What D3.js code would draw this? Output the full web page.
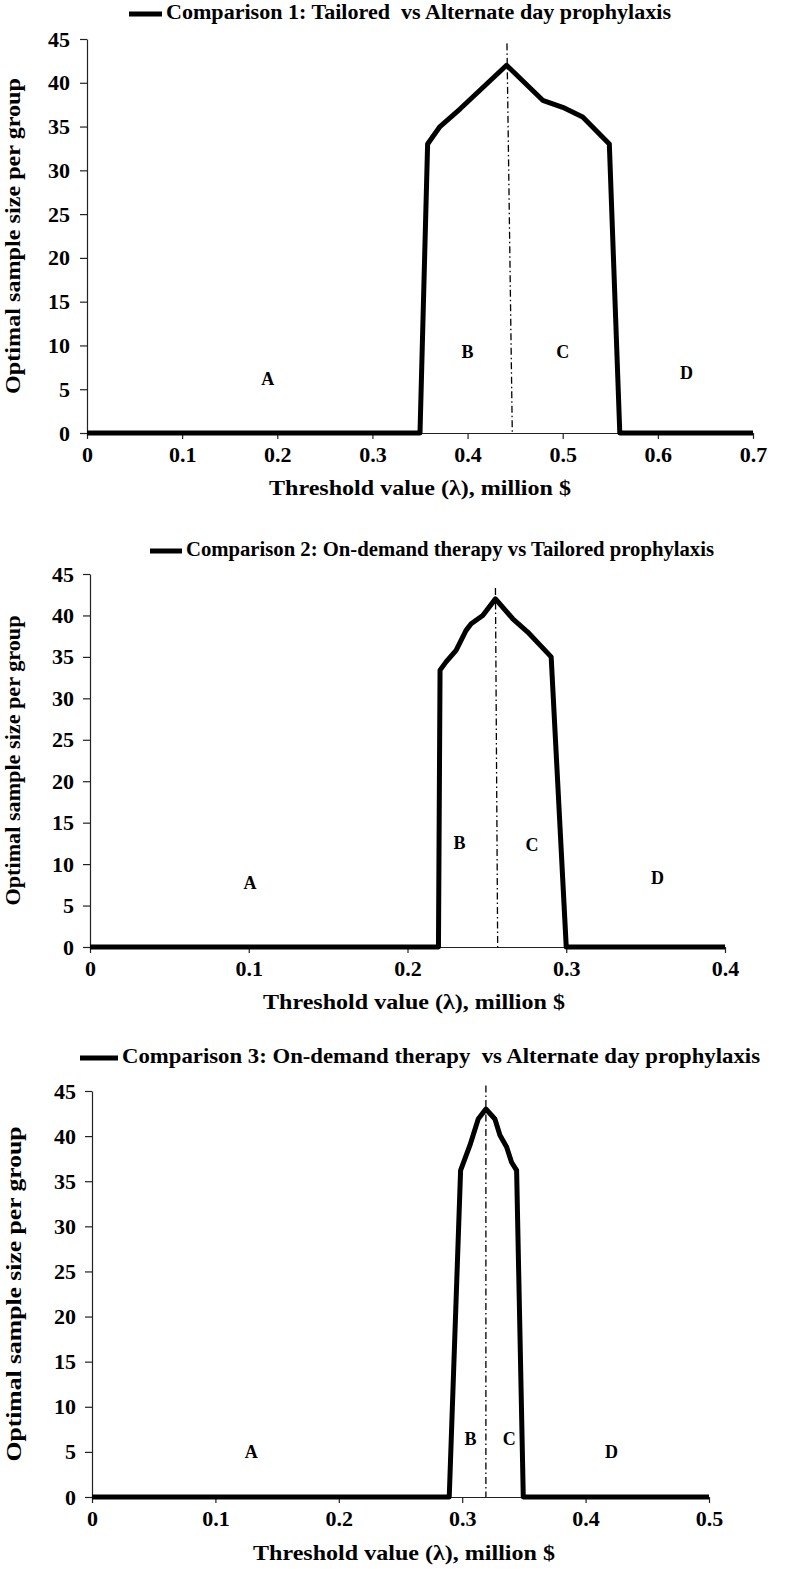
<!DOCTYPE html>
<html>
<head>
<meta charset="utf-8">
<script src="https://cdn.jsdelivr.net/npm/d3@7"></script>
<style>
  html, body { margin: 0; padding: 0; background: #fff; }
  svg text { font-family: "Liberation Serif", "Times New Roman", serif; font-weight: bold; fill: #000; white-space: pre; }
</style>
</head>
<body>
<svg id="chart" width="791" height="1569"></svg>
<script>
// ---------- data ----------
const yTicks = [0, 5, 10, 15, 20, 25, 30, 35, 40, 45];
const xTicks1 = [0, 0.1, 0.2, 0.3, 0.4, 0.5, 0.6, 0.7];
const xTicks2 = [0, 0.1, 0.2, 0.3, 0.4];
const xTicks3 = [0, 0.1, 0.2, 0.3, 0.4, 0.5];

const legend1 = "Comparison 1: Tailored  vs Alternate day prophylaxis";
const legend2 = "Comparison 2: On-demand therapy vs Tailored prophylaxis";
const legend3 = "Comparison 3: On-demand therapy  vs Alternate day prophylaxis";
const xTitle = "Threshold value (λ), million $";
const yTitle = "Optimal sample size per group";

// Comparison 1
const lambda1 = [0, 0.1, 0.2, 0.3, 0.35, 0.358, 0.371, 0.392, 0.441, 0.479, 0.5, 0.521, 0.549, 0.56, 0.6, 0.7];
const size1   = [0, 0,   0,   0,   0,    33,    35,    37,    42,    38,    37.2, 36.1, 33,    0,    0,   0];
const divider1X = [0.4414, 0.447];
const divider1Y = [44.5, 0];
const regions = ["A", "B", "C", "D"];
const regionX1 = [0.19, 0.40, 0.50, 0.63];
const regionY1 = [6, 9, 9, 6.6];

// Comparison 2
const lambda2 = [0, 0.1, 0.2, 0.2195, 0.2205, 0.2243, 0.2306, 0.2369, 0.2401, 0.2474, 0.2554, 0.2663, 0.2757, 0.2905, 0.30, 0.35, 0.4];
const size2   = [0, 0,   0,   0,      33.4,   34.4,   35.8,   38.2,   39.0,   40.0,   42,     39.6,   38,     35,     0,    0,    0];
const divider2X = [0.2554, 0.2568];
const divider2Y = [43.3, 0];
const regionX2 = [0.1008, 0.2327, 0.2785, 0.3575];
const regionY2 = [7.5, 12.3, 12.1, 8.1];

// Comparison 3
const lambda3 = [0, 0.1, 0.2, 0.2895, 0.2987, 0.3063, 0.313, 0.3192, 0.3265, 0.3306, 0.336, 0.340, 0.3441, 0.3495, 0.4, 0.5];
const size3   = [0, 0,   0,   0,      36.2,   39,     41.9,  43,     41.9,   40.1,   38.8,  37.1,  36.2,   0,      0,   0];
const divider3X = [0.3192, 0.3192];
const divider3Y = [45.6, 0];
const regionX3 = [0.129, 0.3068, 0.3382, 0.421];
const regionY3 = [4.8, 6.2, 6.2, 4.8];

// ---------- layout ----------
const panels = [
  { legend: legend1, lx: lambda1, ly: size1, dx: divider1X, dy: divider1Y, rx: regionX1, ry: regionY1, xTicks: xTicks1,
    left: 87, right: 753, top: 39, bottom: 433, legendLine: [129, 162], legendText: [166, 671], legendY: 14,
    xTitleX: 420, xTitleY: 490, yTitleX: 15, yTitleLen: 316, ytPad: 10 },
  { legend: legend2, lx: lambda2, ly: size2, dx: divider2X, dy: divider2Y, rx: regionX2, ry: regionY2, xTicks: xTicks2,
    left: 90, right: 725, top: 574, bottom: 947, legendLine: [150, 182], legendText: [186, 714], legendY: 551,
    xTitleX: 414, xTitleY: 1004, yTitleX: 15, yTitleLen: 290, ytPad: 9 },
  { legend: legend3, lx: lambda3, ly: size3, dx: divider3X, dy: divider3Y, rx: regionX3, ry: regionY3, xTicks: xTicks3,
    left: 92, right: 709, top: 1091, bottom: 1497, legendLine: [80, 118], legendText: [122, 760], legendY: 1058,
    xTitleX: 404, xTitleY: 1555, yTitleX: 16, yTitleLen: 335, ytPad: 9 }
];

const svg = d3.select("#chart");
const fmtX = d => d === 0 ? "0" : d3.format(".1f")(d);

panels.forEach(p => {
  const xMax = p.xTicks[p.xTicks.length - 1];
  const x = d3.scaleLinear().domain([0, xMax]).range([p.left, p.right]);
  const y = d3.scaleLinear().domain([0, 45]).range([p.bottom, p.top]);
  const g = svg.append("g");

  // x axis
  const xa = g.append("g").attr("transform", `translate(0,${p.bottom})`)
    .call(d3.axisBottom(x).tickValues(p.xTicks).tickFormat(fmtX).tickSize(6).tickSizeOuter(0).tickPadding(7));
  xa.selectAll("text").style("font-size", "22px");
  xa.selectAll("line, path").attr("stroke", "#222").attr("stroke-width", 1.2);

  // y axis
  const ya = g.append("g").attr("transform", `translate(${p.left},0)`)
    .call(d3.axisLeft(y).tickValues(yTicks).tickSize(7).tickSizeOuter(0).tickPadding(p.ytPad));
  ya.selectAll("text").style("font-size", "22px");
  ya.selectAll("line, path").attr("stroke", "#222").attr("stroke-width", 1.2);

  // axis titles
  g.append("text").attr("x", p.xTitleX).attr("y", p.xTitleY).attr("text-anchor", "middle")
    .attr("dominant-baseline", "middle")
    .attr("textLength", 302).attr("lengthAdjust", "spacingAndGlyphs")
    .style("font-size", "22px").text(xTitle);
  g.append("text")
    .attr("transform", `translate(${p.yTitleX},${(p.top + p.bottom) / 2}) rotate(-90)`)
    .attr("text-anchor", "middle").attr("dominant-baseline", "middle")
    .attr("textLength", p.yTitleLen).attr("lengthAdjust", "spacingAndGlyphs")
    .style("font-size", "20px").text(yTitle);

  // series
  const pts = p.lx.map((v, i) => [v, p.ly[i]]);
  g.append("path").datum(pts)
    .attr("fill", "none").attr("stroke", "#000").attr("stroke-width", 5).attr("stroke-linejoin", "round")
    .attr("d", d3.line().x(d => x(d[0])).y(d => y(d[1])));

  // dash-dot divider
  const dpts = p.dx.map((v, i) => [v, p.dy[i]]);
  g.append("path").datum(dpts)
    .attr("fill", "none").attr("stroke", "#000").attr("stroke-width", 1.3)
    .attr("stroke-dasharray", "7,3,1.5,3")
    .attr("d", d3.line().x(d => x(d[0])).y(d => y(d[1])));

  // region labels
  g.selectAll(".region").data(regions).enter().append("text")
    .attr("x", (d, i) => x(p.rx[i])).attr("y", (d, i) => y(p.ry[i]))
    .attr("text-anchor", "middle").attr("dominant-baseline", "middle")
    .style("font-size", "18px").text(d => d);

  // legend
  g.append("line").attr("x1", p.legendLine[0]).attr("x2", p.legendLine[1])
    .attr("y1", p.legendY).attr("y2", p.legendY).attr("stroke", "#000").attr("stroke-width", 5);
  g.append("text").attr("x", p.legendText[0]).attr("y", p.legendY).attr("dominant-baseline", "middle")
    .attr("textLength", p.legendText[1] - p.legendText[0]).attr("lengthAdjust", "spacingAndGlyphs")
    .style("font-size", "21px").text(p.legend);
});
</script>
</body>
</html>
